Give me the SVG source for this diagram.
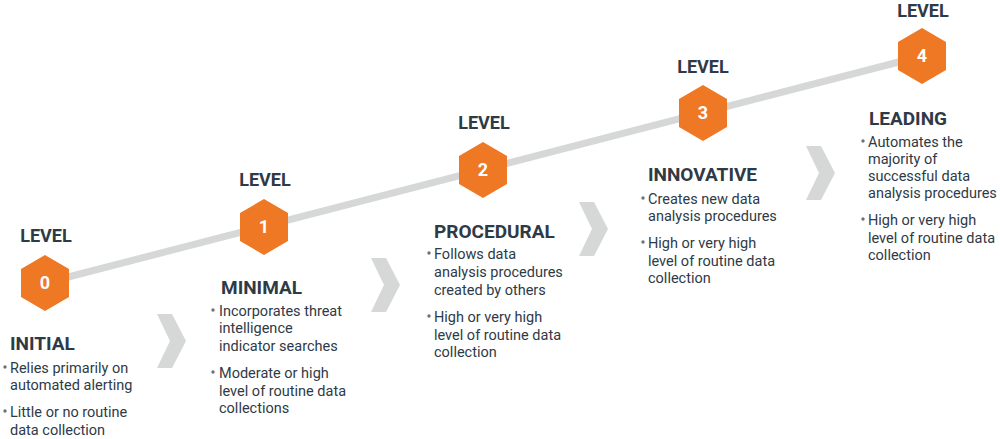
<svg xmlns="http://www.w3.org/2000/svg" width="1000" height="439" viewBox="0 0 1000 439">
<defs>
<style>
.lvl{font-family:Roboto,"Liberation Sans",sans-serif;font-weight:700;font-size:18px;fill:#2e3a46;text-anchor:middle}
.num{font-family:Roboto,"Liberation Sans",sans-serif;font-weight:700;font-size:18px;fill:#ffffff;text-anchor:middle}
.ttl{font-family:Roboto,"Liberation Sans",sans-serif;font-weight:700;font-size:19px;fill:#2e3a46}
.txt{font-family:Roboto,"Liberation Sans",sans-serif;font-size:14.5px;fill:#2e3a46}
.hex{fill:#ef7824}
.chev{fill:#d6d7d7}
.dot{fill:#6a737b}
</style>
<polygon id="hexshape" class="hex" points="0,-28 24,-14 24,14 0,28 -24,14 -24,-14"/>
<polygon id="chevshape" class="chev" points="0,0 15,0 29,27 15,54 0,54 13,27"/>
</defs>
<rect width="1000" height="439" fill="#ffffff"/>
<g id="connectors">
<line x1="45" y1="283" x2="922" y2="56" stroke="#d6d7d7" stroke-width="7"/>
<use href="#chevshape" x="157" y="314"/>
<use href="#chevshape" x="371" y="258"/>
<use href="#chevshape" x="579" y="202"/>
<use href="#chevshape" x="806" y="146"/>
</g>
<g id="level0">
<text class="lvl" x="46" y="242">LEVEL</text>
<use href="#hexshape" x="45" y="283"/>
<text class="num" x="45" y="289">0</text>
<text class="ttl" x="10" y="350">INITIAL</text>
<circle class="dot" cx="5" cy="367" r="1.7"/>
<text class="txt" x="10" y="373">Relies primarily on</text>
<text class="txt" x="10" y="390">automated alerting</text>
<circle class="dot" cx="5" cy="411" r="1.7"/>
<text class="txt" x="10" y="417">Little or no routine</text>
<text class="txt" x="10" y="435">data collection</text>
</g>
<g id="level1">
<text class="lvl" x="265" y="186">LEVEL</text>
<use href="#hexshape" x="264" y="227"/>
<text class="num" x="264" y="233">1</text>
<text class="ttl" x="221" y="294">MINIMAL</text>
<circle class="dot" cx="213" cy="310" r="1.7"/>
<text class="txt" x="219" y="316">Incorporates threat</text>
<text class="txt" x="219" y="333">intelligence</text>
<text class="txt" x="219" y="351">indicator searches</text>
<circle class="dot" cx="213" cy="372" r="1.7"/>
<text class="txt" x="219" y="378">Moderate or high</text>
<text class="txt" x="219" y="396">level of routine data</text>
<text class="txt" x="219" y="413">collections</text>
</g>
<g id="level2">
<text class="lvl" x="484" y="129">LEVEL</text>
<use href="#hexshape" x="483" y="170"/>
<text class="num" x="483" y="176">2</text>
<text class="ttl" x="434" y="238">PROCEDURAL</text>
<circle class="dot" cx="429" cy="253" r="1.7"/>
<text class="txt" x="434" y="259">Follows data</text>
<text class="txt" x="434" y="277">analysis procedures</text>
<text class="txt" x="434" y="295">created by others</text>
<circle class="dot" cx="429" cy="316" r="1.7"/>
<text class="txt" x="434" y="322">High or very high</text>
<text class="txt" x="434" y="340">level of routine data</text>
<text class="txt" x="434" y="357">collection</text>
</g>
<g id="level3">
<text class="lvl" x="703" y="73">LEVEL</text>
<use href="#hexshape" x="703" y="113"/>
<text class="num" x="703" y="119">3</text>
<text class="ttl" x="648" y="181">INNOVATIVE</text>
<circle class="dot" cx="643" cy="198" r="1.7"/>
<text class="txt" x="648" y="204">Creates new data</text>
<text class="txt" x="648" y="221">analysis procedures</text>
<circle class="dot" cx="643" cy="242" r="1.7"/>
<text class="txt" x="648" y="248">High or very high</text>
<text class="txt" x="648" y="266">level of routine data</text>
<text class="txt" x="648" y="283">collection</text>
</g>
<g id="level4">
<text class="lvl" x="923" y="17">LEVEL</text>
<use href="#hexshape" x="922" y="56"/>
<text class="num" x="922" y="62">4</text>
<text class="ttl" x="869" y="125">LEADING</text>
<circle class="dot" cx="863" cy="141" r="1.7"/>
<text class="txt" x="868" y="147">Automates the</text>
<text class="txt" x="868" y="164">majority of</text>
<text class="txt" x="868" y="181">successful data</text>
<text class="txt" x="868" y="198">analysis procedures</text>
<circle class="dot" cx="863" cy="219" r="1.7"/>
<text class="txt" x="868" y="225">High or very high</text>
<text class="txt" x="868" y="243">level of routine data</text>
<text class="txt" x="868" y="260">collection</text>
</g>
</svg>
